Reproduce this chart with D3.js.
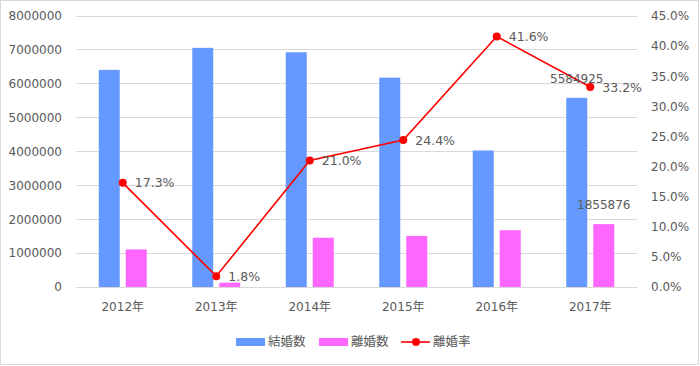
<!DOCTYPE html>
<html><head><meta charset="utf-8">
<script src="https://cdn.jsdelivr.net/npm/d3@7"></script>
<style>
html,body{margin:0;padding:0;background:#fff;}
text{font-family:"DejaVu Sans","Noto Sans CJK JP",sans-serif;fill:#595959;}
</style></head>
<body><svg id="c" width="700" height="366"></svg>
<script>
const categories = ["2012年","2013年","2014年","2015年","2016年","2017年"];
const marriages = [6410000, 7060000, 6930000, 6180000, 4030000, 5584925];
const divorces  = [1109000, 127000, 1455000, 1508000, 1676000, 1855876];
const divorceRate = [17.3, 1.8, 21.0, 24.4, 41.6, 33.2];
const leftTicks = [0,1000000,2000000,3000000,4000000,5000000,6000000,7000000,8000000];
const rightTicks = [0,5,10,15,20,25,30,35,40,45];
const seriesNames = ["結婚数","離婚数","離婚率"];
const labeledBars = [{series:0, index:5}, {series:1, index:5}];

const colors = {m:"#6699FF", d:"#FF66FF", r:"#FF0000"};
const svg = d3.select("#c");
svg.append("rect").attr("x",0.5).attr("y",0.5).attr("width",698).attr("height",364)
  .attr("fill","#fff").attr("stroke","#d9d9d9");

const L=76, R=637, T=16, B=287;
const x = d3.scaleBand().domain(categories).range([L,R]).paddingInner(0).paddingOuter(0);
const yL = d3.scaleLinear().domain([0,8000000]).range([B,T]);
const yR = d3.scaleLinear().domain([0,45]).range([B,T]);
const barW = 21, gap = 6;

// gridlines
svg.append("g").selectAll("line").data(leftTicks).join("line")
  .attr("x1",L).attr("x2",R).attr("y1",d=>yL(d)).attr("y2",d=>yL(d))
  .attr("stroke","#d9d9d9").attr("stroke-width",1).attr("shape-rendering","crispEdges");

// left axis
const axL = d3.axisLeft(yL).tickValues(leftTicks).tickFormat(d3.format("d")).tickSize(0).tickPadding(14);
const gL = svg.append("g").attr("transform",`translate(${L},0)`).call(axL);
gL.select(".domain").remove();
gL.selectAll("text").attr("font-size",12).style("fill","#595959")
  .attr("font-family","DejaVu Sans");

// right axis
const axR = d3.axisRight(yR).tickValues(rightTicks).tickFormat(d=>d.toFixed(1)+"%").tickSize(0).tickPadding(14);
const gR = svg.append("g").attr("transform",`translate(${R},0)`).call(axR);
gR.select(".domain").remove();
gR.selectAll("text").attr("font-size",12).style("fill","#595959").attr("font-family","DejaVu Sans");

// bottom axis
const axB = d3.axisBottom(x).tickSize(0).tickPadding(15);
const gB = svg.append("g").attr("transform",`translate(0,${B})`).call(axB);
gB.select(".domain").attr("stroke","#d9d9d9");
gB.selectAll("text").attr("font-size",12).style("fill","#595959")
  .attr("font-family","DejaVu Sans, Noto Sans CJK JP");

const cx = c => x(c) + x.bandwidth()/2;

// bars
svg.append("g").selectAll("rect").data(categories).join("rect")
  .attr("x",c=>cx(c)-gap/2-barW).attr("width",barW)
  .attr("y",(c,i)=>yL(marriages[i])).attr("height",(c,i)=>B-yL(marriages[i]))
  .attr("fill",colors.m);
svg.append("g").selectAll("rect").data(categories).join("rect")
  .attr("x",c=>cx(c)+gap/2).attr("width",barW)
  .attr("y",(c,i)=>yL(divorces[i])).attr("height",(c,i)=>B-yL(divorces[i]))
  .attr("fill",colors.d);

// line
const line = d3.line().x((d,i)=>cx(categories[i])).y(d=>yR(d));
svg.append("path").datum(divorceRate).attr("d",line).attr("fill","none")
  .attr("stroke",colors.r).attr("stroke-width",1.6);
svg.append("g").selectAll("circle").data(divorceRate).join("circle")
  .attr("cx",(d,i)=>cx(categories[i])).attr("cy",d=>yR(d)).attr("r",4).attr("fill",colors.r);

// bar data labels
const vals = [marriages, divorces];
labeledBars.forEach(b=>{
  const c = categories[b.index];
  const bx = b.series===0 ? cx(c)-gap/2-barW/2 : cx(c)+gap/2+barW/2;
  svg.append("text").attr("x",bx).attr("y",yL(vals[b.series][b.index])-15)
    .attr("text-anchor","middle").attr("font-size",12).text(vals[b.series][b.index]);
});

// rate labels
svg.append("g").selectAll("text").data(divorceRate).join("text")
  .attr("x",(d,i)=>cx(categories[i])+12).attr("y",d=>yR(d)).attr("dy","0.36em")
  .attr("font-size",12.5).text(d=>d.toFixed(1)+"%");

// legend
const lg = svg.append("g");
const ly = 342;
const items = [
  {x:236, type:"bar", color:colors.m, name:seriesNames[0]},
  {x:319, type:"bar", color:colors.d, name:seriesNames[1]},
  {x:401, type:"line", color:colors.r, name:seriesNames[2]}
];
items.forEach(it=>{
  if(it.type==="bar"){
    lg.append("rect").attr("x",it.x).attr("y",ly-4).attr("width",29).attr("height",8).attr("fill",it.color);
  } else {
    lg.append("line").attr("x1",it.x).attr("x2",it.x+29).attr("y1",ly).attr("y2",ly)
      .attr("stroke",it.color).attr("stroke-width",1.6);
    lg.append("circle").attr("cx",it.x+15).attr("cy",ly).attr("r",4).attr("fill",it.color);
  }
  lg.append("text").attr("x",it.x+32).attr("y",ly-1).attr("dy","0.36em").attr("font-size",12.5)
    .attr("font-family","Noto Sans CJK JP").text(it.name);
});
</script></body></html>
